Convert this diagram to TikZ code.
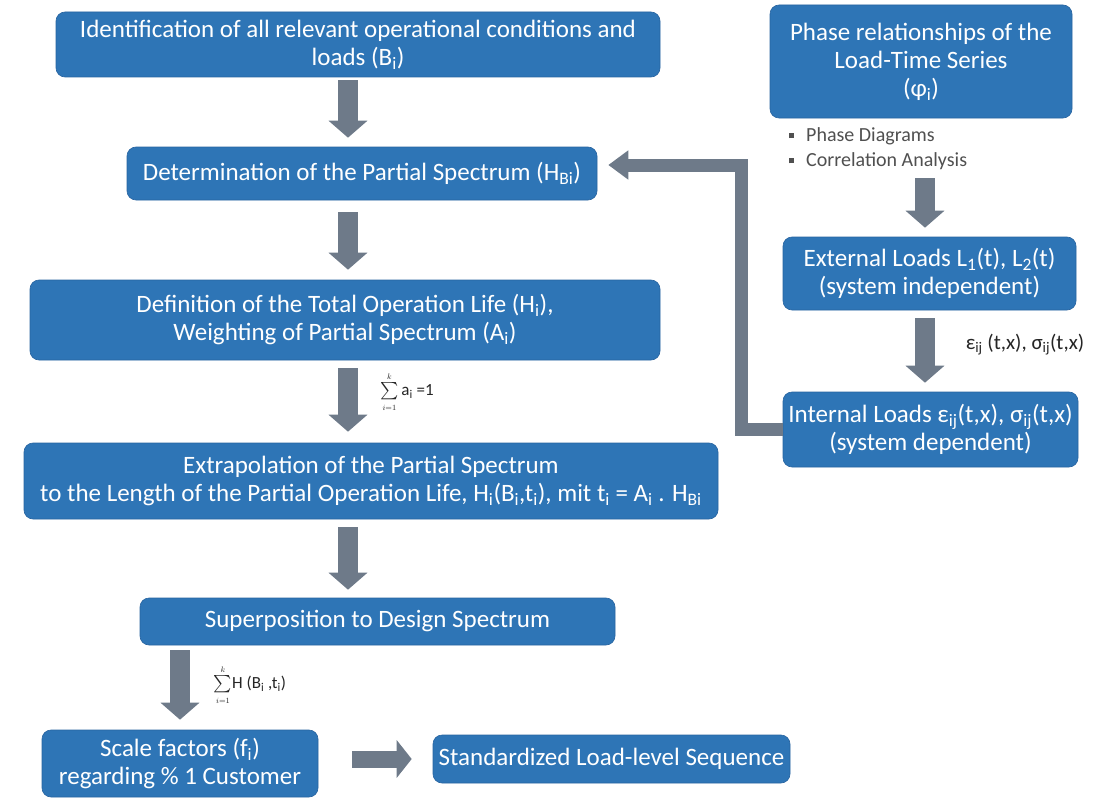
\documentclass[tikz,border=0pt]{standalone}
\usepackage{amsmath}
\usepackage{fontspec}
\setmainfont{Carlito}
\usetikzlibrary{arrows.meta}
\definecolor{boxblue}{RGB}{46,117,182}
\definecolor{boxedge}{RGB}{40,100,160}
\definecolor{arrgray}{RGB}{110,122,137}
\definecolor{bultext}{RGB}{80,80,80}
\begin{document}
\begin{tikzpicture}[x=1pt,y=-1pt,
  box/.style={draw=boxedge, line width=0.6pt, fill=boxblue, rounded corners=9pt,
    text=white, align=center, inner sep=0pt, font=\fontsize{25}{28}\selectfont},
  bigarrow/.style={draw=arrgray, line width=20pt, -{Triangle[width=38pt,length=17pt]}},
  sidearrow/.style={draw=arrgray, line width=17pt, -{Triangle[width=37pt,length=15pt]}},
  elbowarrow/.style={draw=arrgray, line width=13pt, line join=miter, -{Triangle[width=28pt,length=20pt]}},
  lbl/.style={inner sep=0pt, text=black!85, font=\fontsize{17}{20}\selectfont},
  bul/.style={inner sep=0pt, anchor=west, text=bultext, font=\fontsize{20}{22}\selectfont}
]
\useasboundingbox (0,0) rectangle (1096,800);
\fill[white] (0,0) rectangle (1096,800);

% left column boxes
\node[box, minimum width=604pt, minimum height=65pt] (b1) at (358,44.5)
  {Identification of all relevant operational conditions and\\loads (B\textsubscript{i})};
\node[box, minimum width=470pt, minimum height=53pt] (b2) at (362,173.5)
  {Determination of the Partial Spectrum (H\textsubscript{Bi})};
\node[box, minimum width=630pt, minimum height=80pt] (b3) at (345,320)
  {Definition of the Total Operation Life (H\textsubscript{i}),\\Weighting of Partial Spectrum (A\textsubscript{i})};
\node[box, minimum width=694pt, minimum height=76pt] (b4) at (371,481)
  {Extrapolation of the Partial Spectrum\\to the Length of the Partial Operation Life, H\textsubscript{i}(B\textsubscript{i},t\textsubscript{i}), mit t\textsubscript{i} = A\textsubscript{i} . H\textsubscript{Bi}};
\node[box, minimum width=475pt, minimum height=47pt] (b5) at (377.5,621.5)
  {Superposition to Design Spectrum};
\node[box, minimum width=276pt, minimum height=67pt] (b6) at (180,763.5)
  {Scale factors (f\textsubscript{i})\\regarding \% 1 Customer};
\node[box, minimum width=357pt, minimum height=48pt] (b7) at (611.5,759)
  {Standardized Load-level Sequence};

% right column boxes
\node[box, minimum width=302pt, minimum height=113pt] (r1) at (921,61.5)
  {\raisebox{0pt}[18pt][0pt]{}Phase relationships of the\\Load-Time Series\\(φ\textsubscript{i})};
\node[box, minimum width=293pt, minimum height=73pt] (r2) at (929.5,273.5)
  {External Loads L\textsubscript{1}(t), L\textsubscript{2}(t)\\(system independent)};
\node[box, minimum width=295pt, minimum height=75pt] (r3) at (930.5,429.5)
  {Internal Loads ε\textsubscript{ij}(t,x), σ\textsubscript{ij}(t,x)\\(system dependent)};

% bullets
\node[bul] (p1) at (789,136) {\rule[3pt]{5pt}{5pt}\hspace{12pt}Phase Diagrams};
\node[bul] (p2) at (789,161) {\rule[3pt]{5pt}{5pt}\hspace{12pt}Correlation Analysis};

% labels
\node[lbl] (s1) at (407,392) {$\textstyle\sum\limits_{\scriptscriptstyle i=1}^{\scriptscriptstyle k}$\,a\textsubscript{i} =1};
\node[lbl] (s2) at (250,685) {$\textstyle\sum\limits_{\scriptscriptstyle i=1}^{\scriptscriptstyle k}$H (B\textsubscript{i} ,t\textsubscript{i})};
\node[lbl, font=\fontsize{21}{24}\selectfont] (s3) at (1025,345) {ε\textsubscript{ij} (t,x), σ\textsubscript{ij}(t,x)};

% arrow columns
\coordinate (cx) at (348,0);
\coordinate (cy) at (180,0);
\coordinate (cr) at (925,0);
\coordinate (ce) at (741,165);

\draw[bigarrow, shorten <=3pt, shorten >=9pt] (b1.south -| cx) -- (b2.north -| cx);
\draw[bigarrow, shorten <=12pt, shorten >=10pt] (b2.south -| cx) -- (b3.north -| cx);
\draw[bigarrow, shorten <=8pt, shorten >=11pt] (b3.south -| cx) -- (b4.north -| cx);
\draw[bigarrow, shorten <=8pt, shorten >=8pt] (b4.south -| cx) -- (b5.north -| cx);
\draw[bigarrow, shorten <=5pt, shorten >=10pt] (b5.south -| cy) -- (b6.north -| cy);
\draw[sidearrow, shorten <=34pt, shorten >=21pt] (b6.east |- b7) -- (b7.west);
\draw[bigarrow, shorten <=60pt, shorten >=9pt] (r1.south -| cr) -- (r2.north -| cr);
\draw[bigarrow, shorten <=8pt, shorten >=9pt] (r2.south -| cr) -- (r3.north -| cr);
\draw[elbowarrow, shorten >=11pt] (r3.west) -| (ce) -- (b2.east |- ce);
\end{tikzpicture}
\end{document}
